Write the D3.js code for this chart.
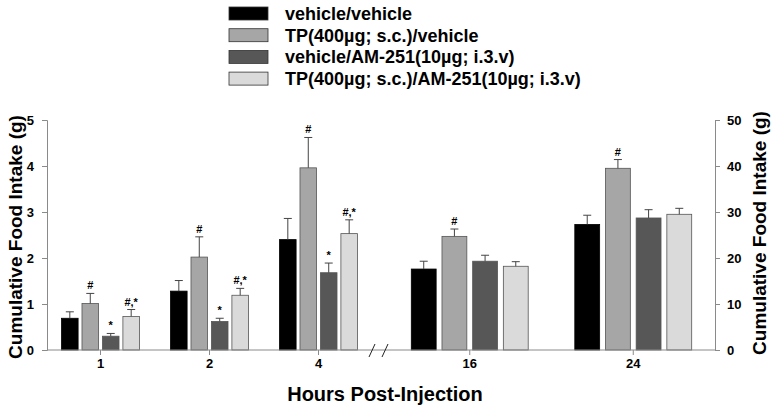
<!DOCTYPE html>
<html><head><meta charset="utf-8">
<script src="https://cdn.jsdelivr.net/npm/d3@7"></script>
<style>body{margin:0;background:#fff}svg{display:block}text{font-family:"Liberation Sans",Arial,sans-serif;font-weight:bold}</style>
</head><body>
<svg id="c" width="771" height="406"></svg>
<script>
const seriesNames = ["vehicle/vehicle","TP(400µg; s.c.)/vehicle","vehicle/AM-251(10µg; i.3.v)","TP(400µg; s.c.)/AM-251(10µg; i.3.v)"];
const seriesColors = ["#000000","#a6a6a6","#575757","#dadada"];
const leftHours = ["1","2","4"];
const rightHours = ["16","24"];
// left panel (g, left axis 0-5)
const leftMeans = [[0.69,1.01,0.30,0.73],[1.28,2.02,0.62,1.19],[2.40,3.96,1.68,2.53]];
const leftErr   = [[0.83,1.23,0.36,0.88],[1.51,2.46,0.69,1.34],[2.86,4.62,1.89,2.83]];
const leftMarks = [["","#","*","#,*"],["","#","*","#,*"],["","#","*","#,*"]];
// right panel (g, right axis 0-50)
const rightMeans = [[17.6,24.7,19.3,18.2],[27.3,39.5,28.7,29.5]];
const rightErr   = [[19.3,26.3,20.6,19.2],[29.3,41.4,30.5,30.8]];
const rightMarks = [["","#","",""],["","#","",""]];
const leftTicks = [0,1,2,3,4,5];
const rightTicks = [0,10,20,30,40,50];

const svg = d3.select("#c");
const x0 = 47, x1 = 715, yBase = 350, yTop = 120;
const yL = d3.scaleLinear().domain([0,5]).range([yBase,yTop]);
const yR = d3.scaleLinear().domain([0,50]).range([yBase,yTop]);
const xL = d3.scaleBand().domain(leftHours).range([46,373]).paddingInner(0.285).paddingOuter(0.1425);
const xR = d3.scaleBand().domain(rightHours).range([388,x1]).paddingInner(0.285).paddingOuter(0.1425);
const axisCol = "#8a8a8a";

function panel(xs, y, hours, means, errs, marks){
  const inner = d3.scaleBand().domain(d3.range(4)).range([0,xs.bandwidth()]).paddingInner(0.19).paddingOuter(0);
  hours.forEach((h,gi)=>{
    const g = svg.append("g").attr("transform",`translate(${xs(h)},0)`);
    d3.range(4).forEach(si=>{
      const bx = inner(si), bw = inner.bandwidth(), cx = bx+bw/2;
      g.append("rect").attr("x",bx).attr("y",y(means[gi][si])).attr("width",bw)
        .attr("height",y(0)-y(means[gi][si])).attr("fill",seriesColors[si])
        .attr("stroke",si===0?"#000":"#555").attr("stroke-width",0.8);
      g.append("line").attr("x1",cx).attr("x2",cx).attr("y1",y(means[gi][si])).attr("y2",y(errs[gi][si])).attr("stroke","#444").attr("stroke-width",1);
      g.append("line").attr("x1",cx-4).attr("x2",cx+4).attr("y1",y(errs[gi][si])).attr("y2",y(errs[gi][si])).attr("stroke","#444").attr("stroke-width",1);
      if(marks[gi][si]) g.append("text").attr("x",cx).attr("y",y(errs[gi][si])-4).attr("text-anchor","middle")
        .attr("font-size",11).attr("fill","#000").text(marks[gi][si]);
    });
  });
}
panel(xL, yL, leftHours, leftMeans, leftErr, leftMarks);
panel(xR, yR, rightHours, rightMeans, rightErr, rightMarks);

// axes
const la = svg.append("g").attr("transform",`translate(${x0},0)`)
  .call(d3.axisLeft(yL).tickValues(leftTicks).tickFormat(d3.format("d")).tickSizeOuter(0).tickSize(5).tickPadding(8));
const ra = svg.append("g").attr("transform",`translate(${x1},0)`)
  .call(d3.axisRight(yR).tickValues(rightTicks).tickFormat(d3.format("d")).tickSizeOuter(0).tickSize(5).tickPadding(7));
const bl = svg.append("g").attr("transform",`translate(0,${yBase})`)
  .call(d3.axisBottom(xL).tickSize(5).tickSizeOuter(0).tickPadding(4));
const br = svg.append("g").attr("transform",`translate(0,${yBase})`)
  .call(d3.axisBottom(xR).tickSize(5).tickSizeOuter(0).tickPadding(4));
[la,ra,bl,br].forEach(a=>{
  a.selectAll("path").attr("stroke",axisCol).attr("stroke-width",1);
  a.selectAll("line").attr("stroke",axisCol);
  a.selectAll("text").attr("font-size",13).attr("fill","#000").attr("font-family","Liberation Sans, Arial").attr("font-weight","bold");
});
bl.select("path").remove(); br.select("path").remove();
svg.append("line").attr("x1",x0).attr("x2",x1).attr("y1",yBase).attr("y2",yBase).attr("stroke",axisCol);
// break marks
[372,385].forEach(bx=>svg.append("line").attr("x1",bx-3).attr("x2",bx+3).attr("y1",yBase+7).attr("y2",yBase-6).attr("stroke","#222").attr("stroke-width",1));

// axis titles
svg.append("text").attr("transform",`translate(22,237) rotate(-90)`).attr("text-anchor","middle").attr("font-size",19).text("Cumulative Food Intake (g)");
svg.append("text").attr("transform",`translate(766,233) rotate(-90)`).attr("text-anchor","middle").attr("font-size",19).text("Cumulative Food Intake (g)");
svg.append("text").attr("x",385).attr("y",401).attr("text-anchor","middle").attr("font-size",20).text("Hours Post-Injection");

// legend
const leg = svg.append("g");
seriesNames.forEach((n,i)=>{
  const yy = 7 + i*21.7;
  leg.append("rect").attr("x",229).attr("y",yy).attr("width",39).attr("height",13).attr("fill",seriesColors[i]).attr("stroke","#333").attr("stroke-width",0.8);
  leg.append("text").attr("x",285).attr("y",yy+13).attr("font-size",18).attr("fill","#000").text(n);
});
</script>
</body></html>
